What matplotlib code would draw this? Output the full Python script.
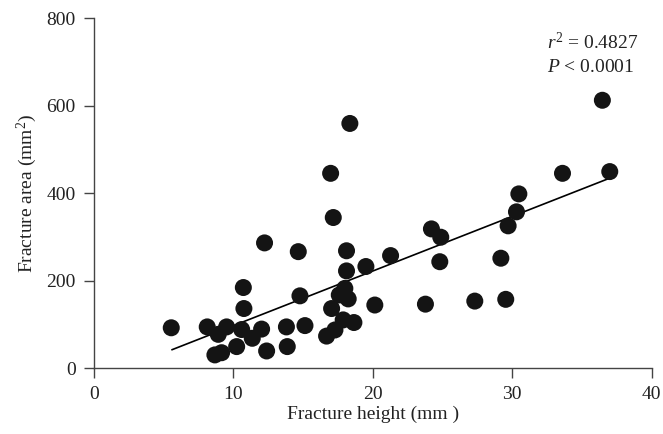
import matplotlib
matplotlib.use("Agg")
import matplotlib.pyplot as plt
import numpy as np

plt.rcParams['font.family'] = ['Liberation Serif', 'DejaVu Serif']
plt.rcParams['mathtext.fontset'] = 'custom'
plt.rcParams['mathtext.rm'] = 'Liberation Serif'
plt.rcParams['mathtext.it'] = 'Liberation Serif:italic'

height_mm = [5.54, 8.12, 9.51, 8.91, 8.67, 9.15, 10.23, 10.59, 10.75, 10.71,
             11.35, 12.02, 12.23, 12.38, 13.80, 13.86, 14.65, 14.77, 15.13,
             18.35, 16.97, 17.16, 18.11, 18.11, 19.50, 21.27, 24.20, 24.87, 24.80,
             29.18, 29.70, 30.30, 30.47, 33.60, 36.99, 36.46, 17.99, 17.59, 18.23,
             17.04, 20.14, 17.87, 18.64, 17.28, 16.68, 23.77, 27.31, 29.53]
area_mm2 = [92, 94, 94, 77, 30, 35, 49, 88, 136, 184,
            68, 89, 286, 39, 94, 49, 266, 165, 97,
            559, 445, 344, 268, 222, 232, 257, 318, 299, 243,
            251, 325, 357, 398, 445, 449, 612, 182, 167, 158,
            136, 144, 110, 104, 87, 73, 146, 153, 157]

fit_slope = 12.49
fit_intercept = -28.0
fit_x_range = [5.6, 37.0]

x_ticks = [0, 10, 20, 30, 40]
y_ticks = [0, 200, 400, 600, 800]

FS = 14
TXT = '#222222'

fig = plt.figure(figsize=(6.63, 4.34), dpi=100)
ax = fig.add_axes([0.1418, 0.152, 0.8412, 0.8065])

ax.scatter(height_mm, area_mm2, s=150, color='#141414', edgecolors='none', zorder=3)
fx = np.array(fit_x_range)
ax.plot(fx, fit_slope * fx + fit_intercept, color='black', lw=1.2, zorder=2)

ax.set_xlim(0, 40)
ax.set_ylim(0, 800)
ax.set_xticks(x_ticks)
ax.set_yticks(y_ticks)
for s in ['top', 'right']:
    ax.spines[s].set_visible(False)
for s in ['left', 'bottom']:
    ax.spines[s].set_color('#444444')
    ax.spines[s].set_linewidth(1.0)
ax.tick_params(direction='out', length=7.2, width=1.0, color='#444444',
               labelsize=FS, labelcolor=TXT, pad=6)
ax.set_xlabel('Fracture height (mm )', fontsize=FS, color=TXT, labelpad=2)
ax.set_ylabel('Fracture area (mm$^2$)', fontsize=FS, color=TXT, labelpad=5)

ax.text(32.5, 745, r'$r^2$ = 0.4827', fontsize=FS, color=TXT, va='center', ha='left')
ax.text(32.5, 688, r'$P$ < 0.0001', fontsize=FS, color=TXT, va='center', ha='left')

fig.savefig('out.png', dpi=100)
